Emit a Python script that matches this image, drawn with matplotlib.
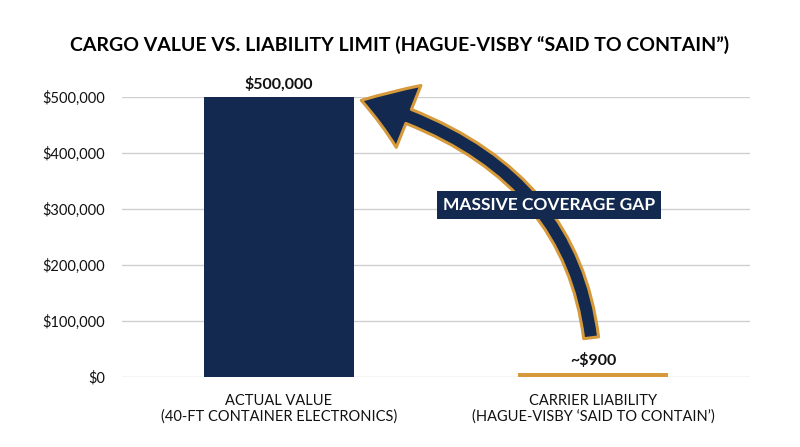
import numpy as np
import matplotlib
matplotlib.use('Agg')
import matplotlib.pyplot as plt
from matplotlib.patches import FancyArrowPatch
from matplotlib.path import Path
from matplotlib.ticker import FuncFormatter

plt.rcParams['font.family'] = ['Lato', 'DejaVu Sans']

# 数据
categories = ['ACTUAL VALUE\n(40-FT CONTAINER ELECTRONICS)',
              'CARRIER LIABILITY\n(HAGUE-VISBY \u2018SAID TO CONTAIN\u2019)']
values = [500000, 900]
value_labels = ['$500,000', '~$900']
y_ticks = [0, 100000, 200000, 300000, 400000, 500000]

navy = '#13294f'
orange = '#d69a3a'
text_col = '#111111'

fig = plt.figure(figsize=(8, 4.47), dpi=100)
ax = fig.add_axes([0.1525, 0.1566, 0.785, 0.6264])

x = np.arange(len(categories))
# 小值的柱子保证能看见
shown = [max(v, 7000) for v in values]
ax.bar(x, shown, width=0.48, color=[navy, orange], zorder=3)

ax.set_xlim(-0.5, 1.5)
ax.set_ylim(0, 500000)
ax.set_yticks(y_ticks)
ax.yaxis.set_major_formatter(FuncFormatter(lambda v, p: '${:,.0f}'.format(v)))
ax.grid(axis='y', color='#d0d0d0', linewidth=1, zorder=0)
for s in ax.spines.values():
    s.set_visible(False)
ax.tick_params(axis='y', length=0, pad=12, labelsize=10.5, labelcolor=text_col)
ax.tick_params(axis='x', length=0, pad=12, labelsize=10.5, labelcolor=text_col)
ax.set_xticks(x)
ax.set_xticklabels(categories, linespacing=1.15)

# 数值标签
ax.text(x[0], values[0] + 10000, value_labels[0], ha='center', va='bottom',
        fontsize=11.5, fontweight='bold', color=text_col, clip_on=False)
ax.text(x[1], shown[1] + 22000, value_labels[1], ha='center', va='center',
        fontsize=11.5, fontweight='bold', color=text_col)

# 弯曲箭头
verts = [(0.994, 70000), (0.924, 387500), (0.262, 494000)]
path = Path(verts, [Path.MOVETO, Path.CURVE3, Path.CURVE3])
arrow = FancyArrowPatch(path=path,
                        arrowstyle='simple,head_length=1.5,head_width=2.0,tail_width=0.45',
                        mutation_scale=24, facecolor=navy, edgecolor=orange,
                        linewidth=2.2, zorder=4, clip_on=False,
                        shrinkA=0, shrinkB=0)
ax.add_patch(arrow)

ax.text(0.86, 307000, 'MASSIVE COVERAGE GAP', ha='center', va='center',
        fontsize=12.5, fontweight='bold', color='white', zorder=5,
        bbox=dict(boxstyle='square,pad=0.35', facecolor=navy, edgecolor='none'))

fig.text(0.5, 0.9, 'CARGO VALUE VS. LIABILITY LIMIT (HAGUE-VISBY \u201cSAID TO CONTAIN\u201d)',
         ha='center', va='center', fontsize=14, fontweight='bold', color='#000000')

fig.savefig('out.png', dpi=100, facecolor='white')
